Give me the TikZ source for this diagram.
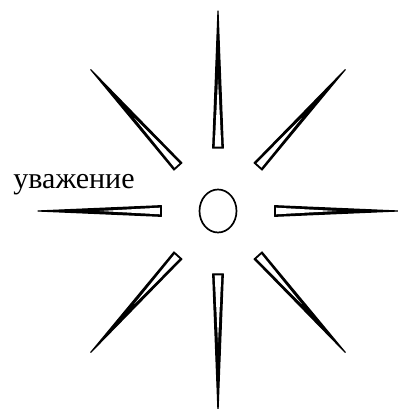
\documentclass[tikz,border=0pt]{standalone}
\usepackage{fontspec}
\setmainfont{Liberation Serif}
\usetikzlibrary{calc, shapes.geometric}

\begin{document}
\begin{tikzpicture}[x=1pt, y=1pt, line width=1.2pt, line join=round,
  spike/.style={draw, fill=black},
  hollow/.style={fill=white},
  hub/.style={ellipse, draw, line width=1.7pt, minimum width=37pt,
              minimum height=43pt, inner sep=0pt},
  word/.style={font=\fontsize{30}{33}\selectfont, inner sep=0pt}]

  \useasboundingbox (0,0) rectangle (397,409);

  %% Centre
  \node[hub] (c) at (218,198) {};

  %% Rays: dark wedge, hollow towards the centre
  \foreach \a in {0,45,...,315} {
    \coordinate (b\a) at ($(c.center)+({0.9*63*cos(\a)},{63*sin(\a)})$);
    \coordinate (t\a) at ($(c.center)+({0.9*200*cos(\a)},{200*sin(\a)})$);
    \coordinate (i\a) at ($(b\a)!1.4pt!(t\a)$);
    \draw[spike] ($(b\a)!5.3pt!90:(t\a)$) -- (t\a)
      -- ($(b\a)!5.3pt!-90:(t\a)$) -- cycle;
    \fill[hollow] ($(i\a)!3.3pt!90:(t\a)$) -- ($(b\a)!0.5!(t\a)$)
      -- ($(i\a)!3.3pt!-90:(t\a)$) -- cycle;
  }

  %% Label
  \node[word, anchor=base] (respect) at (74,220) {уважение};

\end{tikzpicture}
\end{document}
